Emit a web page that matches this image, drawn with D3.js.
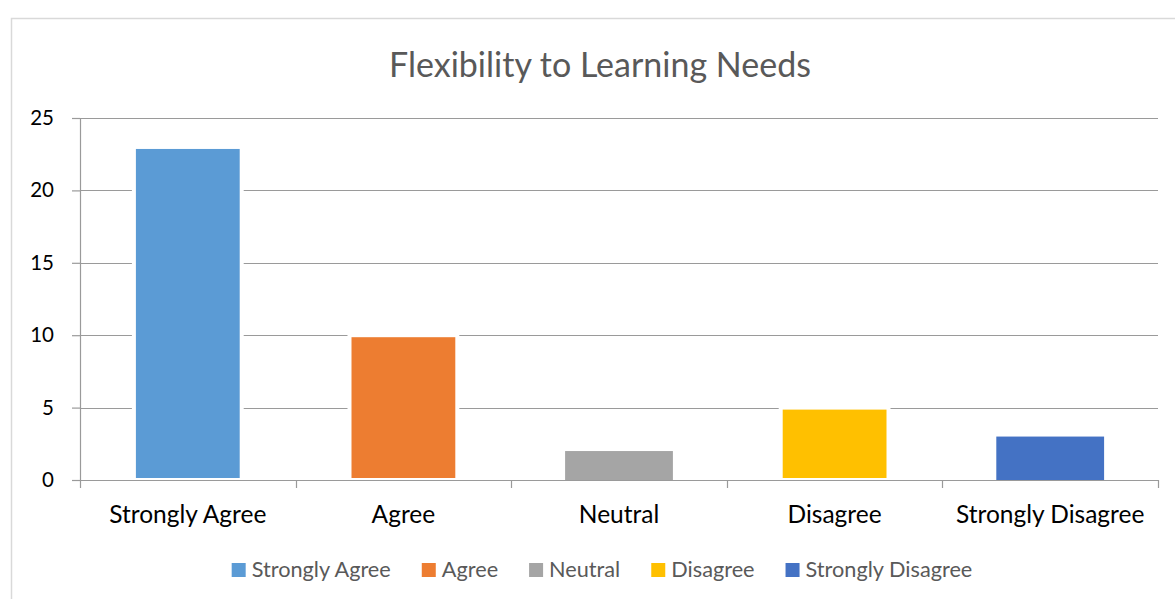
<!DOCTYPE html>
<html>
<head>
<meta charset="utf-8">
<script src="https://cdn.jsdelivr.net/npm/d3@7"></script>
<style>
  html, body { margin: 0; padding: 0; background: #fff; }
  svg { display: block; }
</style>
</head>
<body>
<script>
// ---- data ----
const categories = ["Strongly Agree", "Agree", "Neutral", "Disagree", "Strongly Disagree"];
const values = [23, 10, 2, 5, 3];
const yTicks = [0, 5, 10, 15, 20, 25];
const title = "Flexibility to Learning Needs";

// ---- styles ----
const colors = ["#5B9BD5", "#ED7D31", "#A5A5A5", "#FFC000", "#4472C4"];
const outlined = [true, true, false, true, false];
const FONT = "Lato, 'Open Sans', sans-serif";

const W = 1175, H = 599;
const margin = { left: 80, right: 17, top: 118, bottom: 119 };

const svg = d3.select("body").append("svg").attr("width", W).attr("height", H);

// outer chart border
svg.append("rect")
  .attr("x", 11.5).attr("y", 18.5)
  .attr("width", W + 20).attr("height", H + 20)
  .attr("fill", "#fff").attr("stroke", "#d9d9d9").attr("stroke-width", 1.5);

const x = d3.scaleBand().domain(categories).range([margin.left, W - margin.right]).padding(0);
const y = d3.scaleLinear().domain([0, 25]).range([H - margin.bottom, margin.top]);

// title
svg.append("text")
  .attr("x", 600).attr("y", 77)
  .attr("text-anchor", "middle")
  .attr("font-family", FONT).attr("font-size", 34)
  .attr("fill", "#595959")
  .text(title);

// gridlines
svg.append("g").selectAll("line").data(yTicks.filter(d => d > 0)).join("line")
  .attr("x1", margin.left).attr("x2", W - margin.right)
  .attr("y1", d => Math.round(y(d)) + 0.5).attr("y2", d => Math.round(y(d)) + 0.5)
  .attr("stroke", "#9a9a9a").attr("stroke-width", 1.2);

// y axis
const yAxis = svg.append("g")
  .attr("transform", `translate(${margin.left},0)`)
  .call(d3.axisLeft(y).tickValues(yTicks).tickSize(8).tickPadding(18));
yAxis.select(".domain").attr("stroke", "#9a9a9a").attr("stroke-width", 1.2);
yAxis.selectAll(".tick line").attr("stroke", "#9a9a9a").attr("stroke-width", 1.2);
yAxis.selectAll(".tick text").attr("font-family", FONT).attr("font-size", 20.5).attr("fill", "#000");

// bars
const bw = x.bandwidth() * 0.5;
svg.append("g").selectAll("rect").data(values).join("rect")
  .attr("x", (d, i) => x(categories[i]) + (x.bandwidth() - bw) / 2)
  .attr("width", bw)
  .attr("y", d => y(d))
  .attr("height", d => y(0) - y(d))
  .attr("fill", (d, i) => colors[i])
  .attr("stroke", (d, i) => outlined[i] ? "#fff" : "none")
  .attr("stroke-width", 4);

// x axis
const xAxis = svg.append("g")
  .attr("transform", `translate(0,${y(0)})`)
  .call(d3.axisBottom(x).tickSize(0));
xAxis.select(".domain").attr("stroke", "#9a9a9a").attr("stroke-width", 1.2);
xAxis.selectAll(".tick text")
  .attr("y", 43).attr("dy", 0)
  .attr("font-family", FONT).attr("font-size", 24.5).attr("fill", "#000");
// category boundary ticks
const bounds = categories.map(c => x(c)).concat([x(categories[categories.length - 1]) + x.bandwidth()]);
xAxis.append("g").selectAll("line").data(bounds).join("line")
  .attr("x1", d => Math.round(d) + 0.5).attr("x2", d => Math.round(d) + 0.5)
  .attr("y1", 0).attr("y2", 8)
  .attr("stroke", "#9a9a9a").attr("stroke-width", 1.2);

// legend
const legend = svg.append("g").attr("transform", "translate(0,577)");
const items = legend.selectAll("g").data(categories).join("g");
items.append("rect").attr("width", 14).attr("height", 14).attr("y", -14)
  .attr("fill", (d, i) => colors[i]);
items.append("text").attr("x", 20)
  .attr("font-family", FONT).attr("font-size", 21.7).attr("fill", "#595959")
  .text(d => d);
// lay out centered
const gap = 31;
let widths = [];
items.each(function () { widths.push(this.getBBox().width); });
const total = d3.sum(widths) + gap * (widths.length - 1);
let cx = 602 - total / 2;
items.attr("transform", (d, i) => { const t = `translate(${cx},0)`; cx += widths[i] + gap; return t; });
</script>
</body>
</html>
